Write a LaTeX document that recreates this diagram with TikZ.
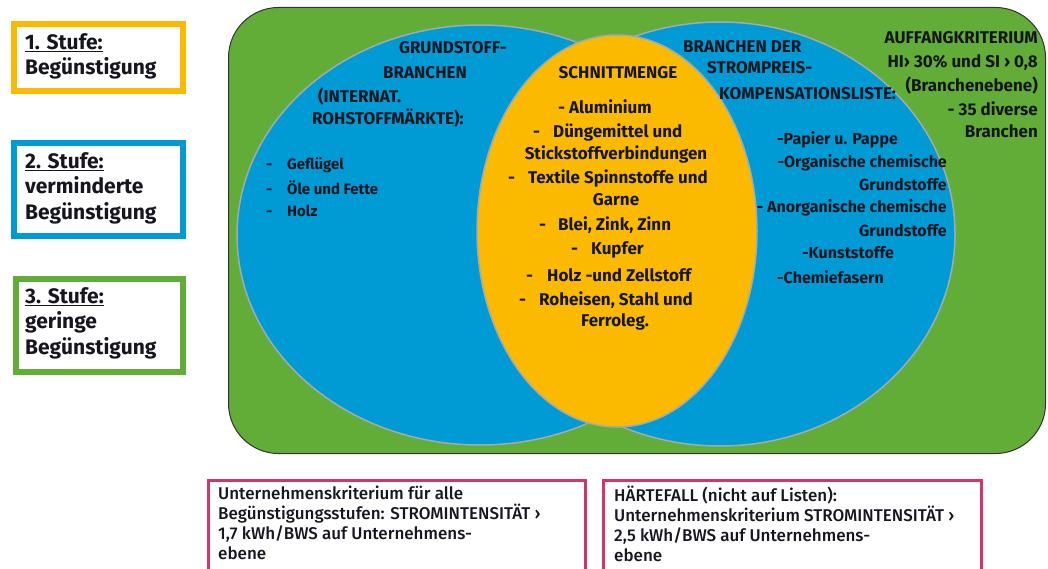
\documentclass[tikz,border=0pt]{standalone}
\usepackage{fontspec}
\setmainfont{Fira Sans}
\newfontfamily\medfont{Fira Sans Medium}
\usetikzlibrary{shapes.geometric}
\definecolor{vgreen}{RGB}{98,173,56}
\definecolor{vblue}{RGB}{0,155,212}
\definecolor{vyellow}{RGB}{251,186,0}
\definecolor{vpink}{RGB}{214,50,110}
\definecolor{vline}{RGB}{160,170,178}
\definecolor{txt}{RGB}{22,22,32}
\begin{document}
\begin{tikzpicture}[x=1pt,y=-1pt,
  lbl/.style={inner sep=0pt, text=txt, font=\bfseries\fontsize{17}{20}\selectfont},
  itm/.style={inner sep=0pt, text=txt, font=\bfseries\fontsize{16}{19}\selectfont},
  small/.style={inner sep=0pt, text=txt, font=\bfseries\fontsize{15}{18}\selectfont},
  stufe/.style={draw, line width=6pt, fill=white, anchor=north west, inner sep=0pt},
  stext/.style={inner sep=0pt, text=txt, anchor=north west, align=left,
     font=\bfseries\fontsize{21}{25.5}\selectfont},
  krit/.style={draw=vpink, line width=3pt, fill=white, anchor=north west, inner sep=0pt,
     minimum height=160pt},
  ktext/.style={inner sep=0pt, text=txt, anchor=north west, align=left,
     font=\medfont\fontsize{17}{19.8}\selectfont},
  ell/.style={ellipse, draw=vline, line width=1.5pt, inner sep=0pt},
]
\useasboundingbox (0,0) rectangle (1048,569);
\fill[white] (0,0) rectangle (1048,569);

% left legend boxes
\node[stufe, draw=vyellow, minimum width=169pt, minimum height=67pt] (s1) at (11,21) {};
\node[stufe, draw=vblue, minimum width=169pt, minimum height=93pt] (s2) at (11,140) {};
\node[stufe, draw=vgreen, minimum width=167pt, minimum height=93pt] (s3) at (13,276) {};
\node[stext] (s1t) at (25,33) {\underline{1. Stufe:}\\Begünstigung};
\node[stext] (s2t) at (25,152) {\underline{2. Stufe:}\\verminderte\\Begünstigung};
\node[stext] (s3t) at (25,287) {\underline{3. Stufe:}\\geringe\\Begünstigung};

% green frame
\node[draw=black!80, line width=1pt, fill=vgreen, rounded corners=50pt,
  anchor=north west, minimum width=817pt, minimum height=446pt, inner sep=0pt] (G) at (228,7) {};

% ellipses
\node[ell, fill=vblue, minimum width=486pt, minimum height=420pt] (L) at (480,235) {};
\node[ell, fill=vblue, minimum width=470pt, minimum height=424pt] (R) at (720,234) {};
\node[ell, fill=vyellow, minimum width=280pt, minimum height=392pt] (Y) at (617,231) {};

% left ellipse text
\node[lbl] (g1) at (453,48) {GRUNDSTOFF-};
\node[lbl] (g2) at (425,73) {BRANCHEN};
\node[lbl, anchor=west] (g3) at (318,97) {(INTERNAT.};
\node[lbl, anchor=west] (g4) at (312,118) {ROHSTOFFMÄRKTE):};
\node[small, anchor=west] (l1) at (266,165) {\makebox[21pt][l]{-}Geflügel};
\node[small, anchor=west] (l2) at (266,188) {\makebox[21pt][l]{-}Öle und Fette};
\node[small, anchor=west] (l3) at (266,211) {\makebox[21pt][l]{-}Holz};

% intersection text
\node[lbl] (y0) at (618,73) {SCHNITTMENGE};
\node[lbl] (y1) at (605,107) {- Aluminium};
\node[lbl, anchor=west] (y2) at (533,132) {\makebox[20pt][l]{-}Düngemittel und};
\node[lbl] (y3) at (616,154) {Stickstoffverbindungen};
\node[lbl, anchor=west] (y4) at (508,178) {\makebox[20pt][l]{-}Textile Spinnstoffe und};
\node[lbl] (y5) at (616,200) {Garne};
\node[lbl, anchor=west] (y6) at (539,225) {\makebox[19pt][l]{-}Blei, Zink, Zinn};
\node[lbl, anchor=west] (y7) at (571,250) {\makebox[20pt][l]{-}Kupfer};
\node[lbl, anchor=west] (y8) at (526,275) {\makebox[21pt][l]{-}Holz -und Zellstoff};
\node[lbl, anchor=west] (y9) at (519,300) {\makebox[20pt][l]{-}Roheisen, Stahl und};
\node[lbl] (y10) at (615,322) {Ferroleg.};

% right ellipse text
\node[lbl, anchor=west] (r1) at (683,47) {BRANCHEN DER};
\node[lbl, anchor=west] (r2) at (707,68) {STROMPREIS-};
\node[lbl, anchor=west] (r3) at (719,94) {KOMPENSATIONSLISTE:};
\node[itm, anchor=west] (r4) at (777,140) {-Papier u. Pappe};
\node[itm, anchor=east] (r5) at (947,163) {-Organische chemische};
\node[itm, anchor=east] (r6) at (947,185) {Grundstoffe};
\node[itm, anchor=east] (r7) at (947,208) {- Anorganische chemische};
\node[itm, anchor=east] (r8) at (947,231) {Grundstoffe};
\node[itm, anchor=west] (r9) at (802,253) {-Kunststoffe};
\node[itm, anchor=west] (r10) at (777,277) {-Chemiefasern};

% green text
\node[lbl, anchor=east] (a1) at (1038,38) {AUFFANGKRITERIUM};
\node[lbl, anchor=east] (a2) at (1038,63) {HI› 30\% und SI › 0,8};
\node[lbl, anchor=east] (a3) at (1038,86) {(Branchenebene)};
\node[lbl, anchor=east] (a4) at (1038,109) {- 35 diverse};
\node[lbl, anchor=east] (a5) at (1038,131) {Branchen};

% bottom criteria boxes
\node[krit, minimum width=377pt] (kA) at (206.5,479) {};
\node[krit, minimum width=378pt] (kB) at (602,479) {};
\node[ktext] (kAt) at (218,486) {Unternehmenskriterium für alle\\Begünstigungsstufen: STROMINTENSITÄT ›\\1,7 kWh/BWS auf Unternehmens-\\ebene};
\node[ktext] (kBt) at (614,486) {HÄRTEFALL (nicht auf Listen):\\Unternehmenskriterium STROMINTENSITÄT ›\\2,5 kWh/BWS auf Unternehmens-\\ebene};
\end{tikzpicture}
\end{document}
